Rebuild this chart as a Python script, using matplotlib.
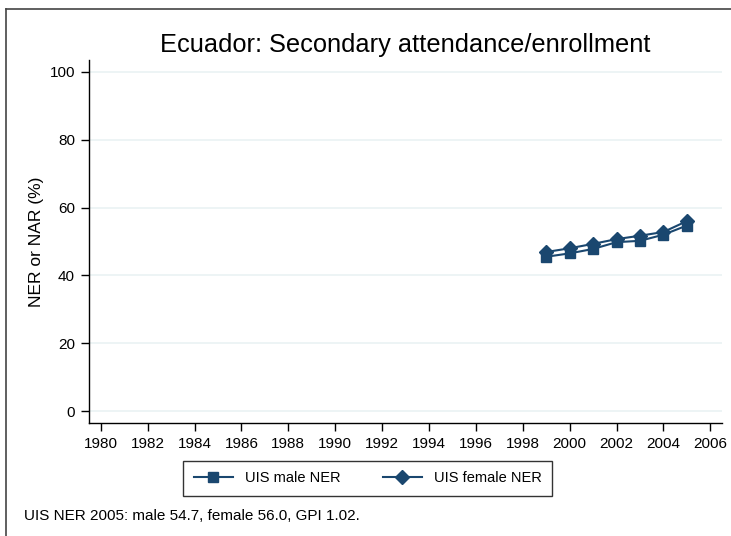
import matplotlib
matplotlib.use("Agg")
import matplotlib.pyplot as plt
from matplotlib.lines import Line2D

plt.rcParams['font.family'] = ['Liberation Sans', 'DejaVu Sans']

years = [1999, 2000, 2001, 2002, 2003, 2004, 2005]
male_ner = [45.5, 46.5, 47.8, 49.8, 50.2, 52.0, 54.7]
female_ner = [46.9, 48.0, 49.3, 50.7, 51.7, 52.8, 56.0]
x_ticks = list(range(1980, 2007, 2))
y_ticks = [0, 20, 40, 60, 80, 100]
note = "UIS NER 2005: male 54.7, female 56.0, GPI 1.02."

navy = "#1a476f"
W, H = 731, 536

fig = plt.figure(figsize=(W / 100, H / 100), dpi=100)
ax = fig.add_axes([89 / W, 1 - 423 / H, (722 - 89) / W, (423 - 60) / H])

ax.plot(years, male_ner, color=navy, lw=1.5, marker="s", ms=7, label="UIS male NER")
ax.plot(years, female_ner, color=navy, lw=1.5, marker="D", ms=7, label="UIS female NER")

ax.set_xlim(1979.5, 2006.5)
ax.set_ylim(-3.5, 103.5)
ax.set_xticks(x_ticks)
ax.set_yticks(y_ticks)
ax.grid(axis="y", color="#eaf2f3", lw=1.2)
ax.set_axisbelow(True)
for s in ["top", "right"]:
    ax.spines[s].set_visible(False)
for s in ["left", "bottom"]:
    ax.spines[s].set_linewidth(1.0)
ax.tick_params(direction="out", length=6, width=1, labelsize=11, pad=4)
ax.set_ylabel("NER or NAR (%)", fontsize=12.5, labelpad=4)
ax.set_title("Ecuador: Secondary attendance/enrollment", fontsize=18.3, pad=6)

leg = fig.legend(loc="center", bbox_to_anchor=(367.5 / W, 1 - 478.5 / H), ncol=2,
                 fancybox=False, edgecolor="#333333", fontsize=10.5, handlelength=2.7,
                 handletextpad=0.8, columnspacing=2.9, borderpad=0.7, framealpha=1)
leg.get_frame().set_linewidth(1.0)

fig.text(24 / W, 1 - 516 / H, note, fontsize=11, va="center", ha="left")

# outer frame (only left and top visible in the picture)
fig.add_artist(Line2D([6 / W, 6 / W], [0, 1 - 9 / H], color="#444444", lw=1.2))
fig.add_artist(Line2D([6 / W, 1], [1 - 9 / H, 1 - 9 / H], color="#444444", lw=1.2))

fig.savefig("out.png", dpi=100)
